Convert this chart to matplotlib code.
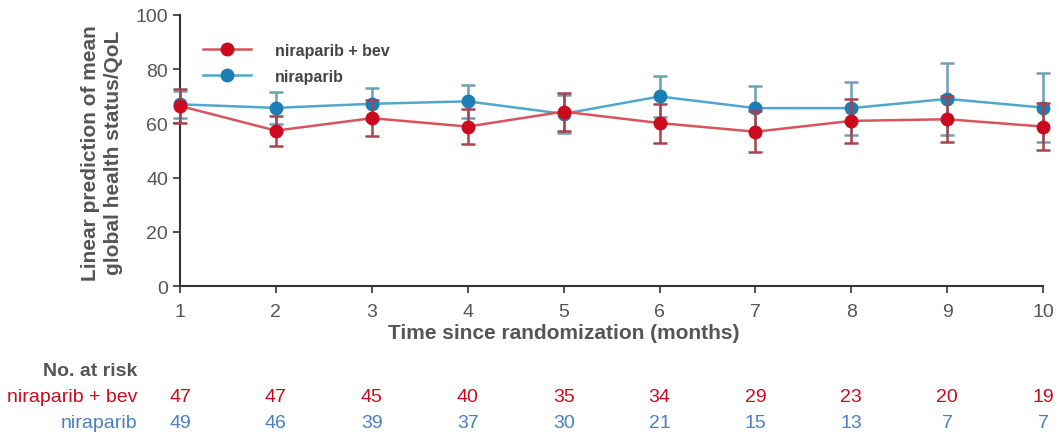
import numpy as np
import matplotlib
matplotlib.use("Agg")
import matplotlib.pyplot as plt
import matplotlib.transforms as mtransforms
from matplotlib.lines import Line2D

plt.rcParams['font.family'] = ['Liberation Sans', 'DejaVu Sans']

months = [1, 2, 3, 4, 5, 6, 7, 8, 9, 10]
combo_mean = [66.4, 57.3, 61.9, 58.8, 64.3, 60.1, 56.9, 60.9, 61.5, 58.8]
combo_err = [6.3, 5.5, 6.7, 6.4, 7.0, 7.2, 7.6, 8.0, 8.5, 8.8]
nira_mean = [67.0, 65.7, 67.2, 68.1, 63.5, 69.9, 65.6, 65.6, 69.0, 65.8]
nira_err = [5.0, 6.0, 6.0, 6.0, 7.0, 7.7, 8.3, 9.8, 13.2, 12.7]
combo_risk = [47, 47, 45, 40, 35, 34, 29, 23, 20, 19]
nira_risk = [49, 46, 39, 37, 30, 21, 15, 13, 7, 7]

red_m, red_l, red_e = '#cc0a1e', '#d9535d', '#a8424c'
blue_m, blue_l, blue_e = '#1d7db4', '#4fa8cc', '#6d9fb8'
grey = '#555555'

fig = plt.figure(figsize=(10.59, 4.39), dpi=100)
ax = fig.add_axes([0.170, 0.346, 0.815, 0.618])

ax.errorbar(months, nira_mean, yerr=nira_err, color=blue_l, ecolor=blue_e,
            elinewidth=1.8, capsize=5, capthick=1.8, lw=1.8, marker='o',
            ms=9, mfc=blue_m, mec=blue_m, clip_on=False, zorder=3)
ax.errorbar(months, combo_mean, yerr=combo_err, color=red_l, ecolor=red_e,
            elinewidth=1.8, capsize=5, capthick=1.8, lw=1.8, marker='o',
            ms=9, mfc=red_m, mec=red_m, clip_on=False, zorder=4)

ax.set_xlim(1, 10)
ax.set_ylim(0, 100)
ax.set_xticks(months)
ax.set_yticks([0, 20, 40, 60, 80, 100])
for s in ['top', 'right']:
    ax.spines[s].set_visible(False)
for s in ['left', 'bottom']:
    ax.spines[s].set_color('#333333')
    ax.spines[s].set_linewidth(1.5)
ax.tick_params(colors='#333333', labelcolor=grey, labelsize=14, width=1.2, length=5)
ax.tick_params(axis='x', pad=7)

ax.set_xlabel('Time since randomization (months)', fontsize=15, fontweight='bold',
              color=grey)
ax.xaxis.set_label_coords(0.445, -0.17)
ax.xaxis.label.set_va('center')
ax.set_ylabel('Linear prediction of mean\nglobal health status/QoL', fontsize=15,
              fontweight='bold', color=grey, linespacing=1.25)
ax.yaxis.set_label_coords(-0.090, 0.494)
ax.yaxis.label.set_va('center')

handles = [Line2D([], [], color=red_l, lw=1.8, marker='o', ms=9, mfc=red_m, mec=red_m),
           Line2D([], [], color=blue_l, lw=1.8, marker='o', ms=9, mfc=blue_m, mec=blue_m)]
ax.legend(handles, ['niraparib + bev', 'niraparib'], loc='upper left',
          bbox_to_anchor=(0.01, 0.95), frameon=False,
          prop={'size': 11.5, 'weight': 'bold'}, labelcolor='#444444', handlelength=3.0,
          handletextpad=1.5, labelspacing=0.7, borderaxespad=0.5)

tr = mtransforms.blended_transform_factory(ax.transData, fig.transFigure)
fig.text(0.130, 1 - 371 / 439, 'No. at risk', ha='right', va='center',
         fontsize=14, fontweight='bold', color=grey)
fig.text(0.130, 1 - 398 / 439, 'niraparib + bev', ha='right', va='center',
         fontsize=14, color=red_m)
fig.text(0.130, 1 - 424 / 439, 'niraparib', ha='right', va='center',
         fontsize=14, color='#4a7fc0')
for m, c, n in zip(months, combo_risk, nira_risk):
    ax.text(m, 1 - 398 / 439, str(c), transform=tr, ha='center', va='center',
            fontsize=14, color=red_m)
    ax.text(m, 1 - 424 / 439, str(n), transform=tr, ha='center', va='center',
            fontsize=14, color='#4a7fc0')

fig.savefig('out.png', dpi=100)
